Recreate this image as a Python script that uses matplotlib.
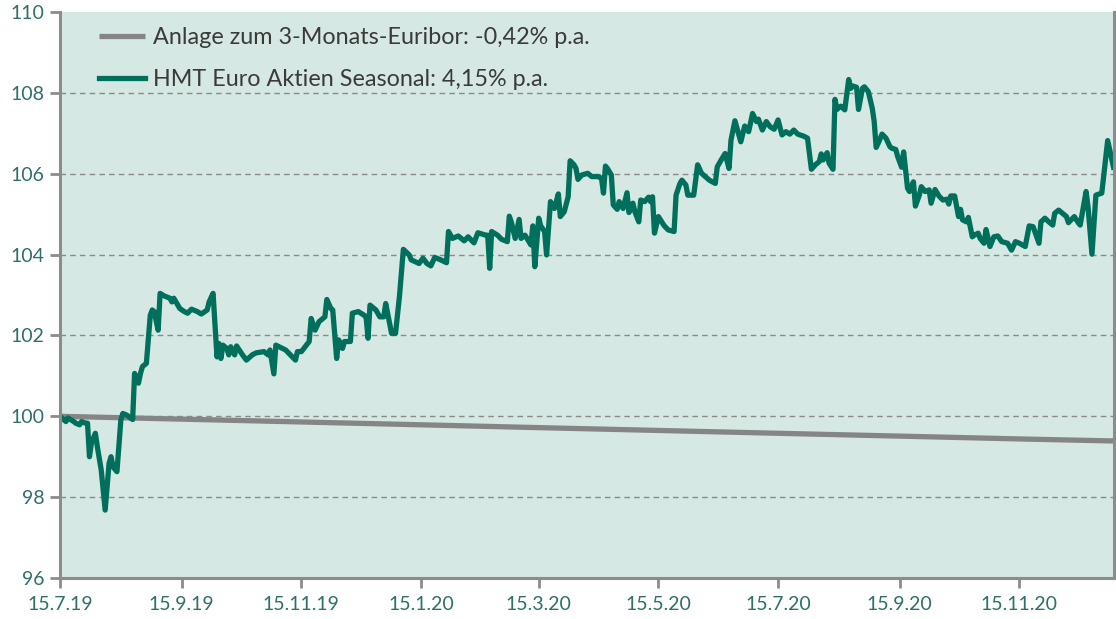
import numpy as np
import matplotlib
matplotlib.use('Agg')
import matplotlib.pyplot as plt
import datetime as dt

start = np.datetime64('2019-07-15')

# days since 15.7.19 and index values
fund_days = [0, 3, 4, 7, 8, 10, 11, 13, 14, 15, 16, 18, 19, 21, 23, 25, 26, 27, 29, 31,
             32, 34, 37, 38, 40, 41, 42, 44, 46, 47, 48, 50, 51, 53, 56, 57, 58, 61, 63, 65,
             67, 70, 72, 75, 76, 78, 80, 81, 82, 83, 85, 86, 87, 89, 90, 93, 95, 98, 100, 104,
             106, 107, 109, 110, 115, 120, 121, 123, 127, 128, 130, 132, 135, 136, 138, 139, 141, 142, 144, 145,
             148, 149, 152, 155, 156, 157, 158, 161, 163, 165, 166, 169, 171, 173, 175, 178, 179, 183, 185, 187,
             189, 191, 194, 197, 198, 200, 203, 206, 208, 211, 213, 217, 218, 219, 220, 223, 225, 228, 229, 230,
             232, 234, 235, 237, 240, 241, 242, 244, 245, 247, 248, 250, 252, 254, 255, 257, 259, 260, 262, 263,
             264, 266, 269, 271, 274, 276, 277, 278, 279, 281, 282, 284, 285, 287, 289, 290, 292, 293, 295, 296,
             298, 300, 301, 302, 303, 305, 308, 310, 313, 314, 316, 317, 319, 320, 323, 325, 327, 331, 334, 335,
             337, 339, 341, 342, 344, 347, 349, 351, 353, 355, 356, 358, 360, 362, 364, 366, 368, 370, 372, 374,
             376, 379, 381, 383, 385, 387, 388, 389, 391, 392, 394, 395, 396, 398, 400, 402, 403, 404, 406, 407,
             409, 410, 412, 414, 415, 416, 417, 419, 421, 423, 424, 426, 427, 429, 430, 432, 433, 435, 436, 438,
             439, 441, 443, 444, 446, 448, 450, 452, 453, 454, 456, 458, 459, 460, 462, 463, 465, 466, 468, 469,
             471, 472, 474, 476, 478, 480, 483, 485, 487, 489, 492, 494, 496, 499, 500, 502, 504, 506, 507, 509,
             511, 513, 514, 517, 519, 520, 523, 524, 526, 528, 531, 534, 537]
fund_values = [100.00, 99.87, 99.96, 99.87, 99.83, 99.79, 99.87, 99.83, 99.83, 99.00, 99.34, 99.58, 99.25, 98.67, 97.68, 98.84, 99.00, 98.75, 98.63, 99.91,
               100.07, 100.03, 99.92, 101.06, 100.82, 101.06, 101.23, 101.31, 102.50, 102.63, 102.59, 102.13, 103.04, 102.98, 102.92, 102.83, 102.92, 102.67, 102.60, 102.55,
               102.65, 102.59, 102.53, 102.63, 102.83, 103.04, 101.47, 101.80, 101.43, 101.76, 101.68, 101.52, 101.72, 101.52, 101.74, 101.52, 101.39, 101.52, 101.57, 101.60,
               101.52, 101.64, 101.05, 101.76, 101.64, 101.39, 101.60, 101.60, 101.85, 102.42, 102.13, 102.34, 102.46, 102.89, 102.67, 102.63, 101.43, 101.89, 101.68, 101.85,
               101.85, 102.55, 102.59, 102.50, 102.46, 101.93, 102.75, 102.63, 102.46, 102.46, 102.79, 102.05, 102.05, 102.96, 104.13, 103.99, 103.87, 103.78, 103.91, 103.78,
               103.72, 103.93, 103.87, 103.80, 104.57, 104.40, 104.46, 104.34, 104.44, 104.29, 104.54, 104.48, 104.48, 103.66, 104.57, 104.48, 104.38, 104.32, 104.95, 104.81,
               104.40, 104.87, 104.40, 104.48, 104.24, 104.71, 103.70, 104.90, 104.71, 104.57, 103.99, 105.31, 105.14, 105.50, 104.94, 105.06, 105.43, 106.32, 106.22, 106.13,
               105.86, 105.97, 106.01, 105.93, 105.93, 105.89, 105.52, 106.19, 106.13, 105.97, 105.23, 105.12, 105.31, 105.14, 105.53, 105.04, 105.27, 105.06, 104.81, 105.35,
               105.31, 105.42, 105.31, 105.43, 104.53, 104.94, 104.71, 104.61, 104.57, 105.47, 105.76, 105.84, 105.72, 105.47, 105.47, 106.22, 106.01, 105.84, 105.76, 106.17,
               106.34, 106.50, 106.13, 106.83, 107.31, 106.79, 107.18, 107.04, 107.49, 107.29, 107.35, 107.08, 107.29, 107.16, 107.10, 107.33, 106.96, 107.04, 106.98, 107.08,
               106.98, 106.93, 106.88, 106.11, 106.22, 106.30, 106.49, 106.34, 106.52, 106.26, 106.11, 107.84, 107.59, 107.67, 107.58, 108.33, 108.11, 108.17, 108.14, 107.59,
               108.11, 108.15, 108.03, 107.62, 107.29, 106.65, 106.75, 106.98, 106.88, 106.67, 106.63, 106.60, 106.42, 106.16, 106.54, 105.64, 105.56, 105.80, 105.20, 105.47,
               105.68, 105.56, 105.60, 105.27, 105.61, 105.45, 105.35, 105.37, 105.25, 105.45, 105.45, 104.94, 105.12, 104.86, 104.81, 104.92, 104.44, 104.48, 104.53, 104.40,
               104.28, 104.62, 104.20, 104.44, 104.46, 104.32, 104.28, 104.11, 104.32, 104.28, 104.20, 104.71, 104.69, 104.28, 104.81, 104.90, 104.81, 104.73, 105.02, 105.10,
               105.02, 104.94, 104.79, 104.94, 104.79, 104.73, 105.56, 105.18, 104.01, 105.47, 105.52, 106.82, 106.16]

euribor_days = [0, 62, 123, 184, 244, 305, 366, 428, 489, 537]
euribor_values = [100.00, 99.93, 99.86, 99.79, 99.72, 99.65, 99.58, 99.51, 99.44, 99.39]

label_euribor = 'Anlage zum 3-Monats-Euribor: -0,42% p.a.'
label_fund = 'HMT Euro Aktien Seasonal: 4,15% p.a.'

tick_dates = ['2019-07-15', '2019-09-15', '2019-11-15', '2020-01-15', '2020-03-15',
              '2020-05-15', '2020-07-15', '2020-09-15', '2020-11-15']
y_ticks = [96, 98, 100, 102, 104, 106, 108, 110]

green = '#00705c'
grey_line = '#858585'
bg = '#d6e8e3'
label_col = '#2e6f6a'
spine_col = '#8c8c8c'

plt.rcParams['font.family'] = ['Lato', 'DejaVu Sans']

fund_x = (start + np.array(fund_days, dtype='timedelta64[D]')).astype('datetime64[D]').astype(object)
eur_x = (start + np.array(euribor_days, dtype='timedelta64[D]')).astype('datetime64[D]').astype(object)

fig = plt.figure(figsize=(11.16, 6.19), dpi=100)
ax = fig.add_axes([0.0538, 0.0662, 0.944, 0.9144])
ax.set_facecolor(bg)

ax.plot(eur_x, euribor_values, color=grey_line, lw=3.8, label=label_euribor, solid_capstyle='butt')
ax.plot(fund_x, fund_values, color=green, lw=3.8, label=label_fund, solid_joinstyle='round')

ax.set_ylim(96, 110)
ax.set_xlim(fund_x[0], fund_x[-1])
ax.set_yticks(y_ticks)
ticks = [dt.date.fromisoformat(d) for d in tick_dates]
ax.set_xticks(ticks)
ax.set_xticklabels([f'{d.day}.{d.month}.{d.year % 100}' for d in ticks])

for y in y_ticks[1:-1]:
    ax.axhline(y, color='#8a8a8a', lw=1, ls=(0, (4, 3)), zorder=0.5)

for side in ['left', 'bottom', 'right']:
    ax.spines[side].set_color(spine_col)
    ax.spines[side].set_linewidth(2.2)
ax.spines['top'].set_visible(False)

ax.tick_params(axis='both', colors=spine_col, width=2, length=7, labelsize=14,
               labelcolor=label_col)
ax.tick_params(axis='x', pad=6)
ax.tick_params(axis='y', pad=4)

leg = ax.legend(loc='upper left', bbox_to_anchor=(0.0166, 1.011), frameon=False,
                fontsize=16.8, handlelength=2.0, handletextpad=0.35, labelspacing=0.9)
for t in leg.get_texts():
    t.set_color('#3a3a3a')

fig.savefig('out.png', dpi=100)
